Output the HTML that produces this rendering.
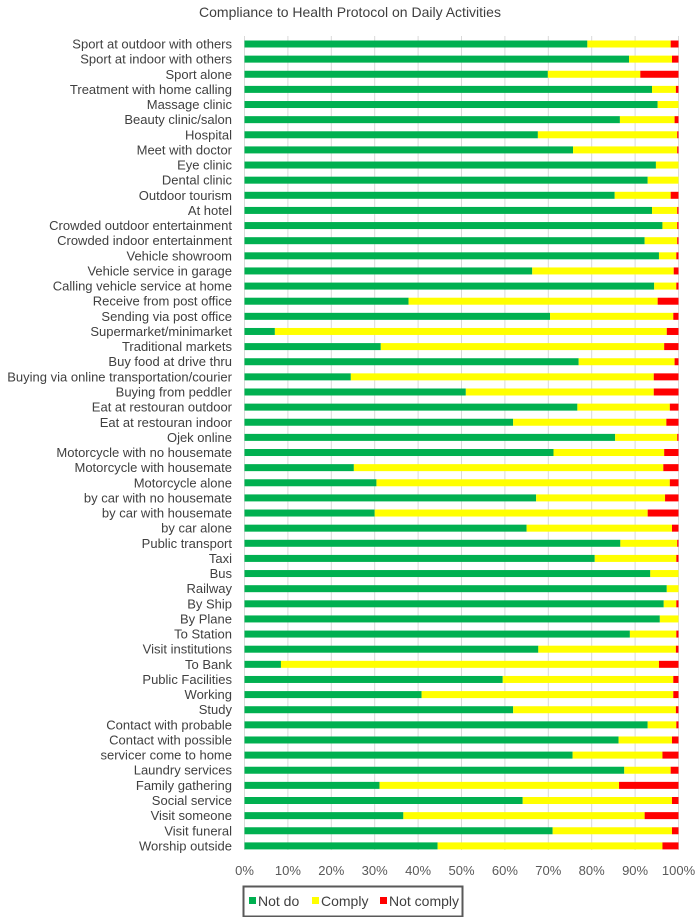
<!DOCTYPE html>
<html><head><meta charset="utf-8"><style>
body{margin:0;background:#fff;}
svg{display:block;font-family:"Liberation Sans",sans-serif;}
</style></head><body>
<svg id="chart" width="698" height="917">
<text x="350" y="17" text-anchor="middle" font-size="14" fill="#404040">Compliance to Health Protocol on Daily Activities</text>
<g id="grid"></g><g id="bars"></g><g id="labels"></g><g id="ticks"></g>
<g>
<rect x="243.5" y="886.5" width="219" height="30" fill="#fff" stroke="#595959" stroke-width="2"/>
<rect x="249" y="897" width="7" height="7" fill="#00b050"/>
<text x="258" y="906" font-size="14" fill="#404040">Not do</text>
<rect x="312" y="897" width="7" height="7" fill="#ffff00"/>
<text x="321" y="906" font-size="14" fill="#404040">Comply</text>
<rect x="380" y="897" width="7" height="7" fill="#ff0000"/>
<text x="389" y="906" font-size="14" fill="#404040">Not comply</text>
</g>
</svg>
<script>
const categories=["Sport at outdoor with others","Sport at indoor with others","Sport alone","Treatment with home calling","Massage clinic","Beauty clinic/salon","Hospital","Meet with doctor","Eye clinic","Dental clinic","Outdoor tourism","At hotel","Crowded outdoor entertainment","Crowded indoor entertainment","Vehicle showroom","Vehicle service in  garage","Calling vehicle service at home","Receive from post office","Sending via post office","Supermarket/minimarket","Traditional markets","Buy food at drive thru","Buying via online transportation/courier","Buying from peddler","Eat at restouran outdoor","Eat at restouran indoor","Ojek online","Motorcycle with no housemate","Motorcycle with housemate","Motorcycle alone","by car with no housemate","by car with housemate","by car alone","Public transport","Taxi","Bus","Railway","By Ship","By Plane","To Station","Visit institutions","To Bank","Public Facilities","Working","Study","Contact with probable","Contact with possible","servicer come to home","Laundry services","Family gathering","Social service","Visit someone","Visit funeral","Worship outside"];
const notDo=[79.0,88.6,69.9,93.9,95.2,86.5,67.6,75.7,94.8,92.9,85.3,93.9,96.3,92.2,95.5,66.3,94.4,37.8,70.4,7.0,31.4,77.0,24.5,51.0,76.7,61.9,85.4,71.2,25.2,30.4,67.2,30.0,65.0,86.6,80.7,93.5,97.3,96.6,95.7,88.8,67.7,8.4,59.5,40.8,61.9,92.9,86.2,75.6,87.5,31.1,64.1,36.6,71.0,44.5];
const comply=[19.2,9.9,21.3,5.5,4.8,12.6,32.1,24.0,5.2,7.1,12.9,5.8,3.4,7.5,4.0,32.6,5.1,57.4,28.4,90.3,65.3,22.1,69.8,43.3,21.3,35.3,14.3,25.5,71.3,67.6,29.7,62.9,33.5,13.1,18.8,6.5,2.7,2.9,4.3,10.7,31.7,87.1,39.3,58.0,37.5,6.6,12.3,20.7,10.7,55.2,34.4,55.6,27.5,51.8];
const notComply=[1.8,1.5,8.8,0.6,0,0.9,0.3,0.3,0,0,1.8,0.3,0.3,0.3,0.5,1.1,0.5,4.8,1.2,2.7,3.3,0.9,5.7,5.7,2.0,2.8,0.3,3.3,3.5,2.0,3.1,7.1,1.5,0.3,0.5,0,0,0.5,0,0.5,0.6,4.5,1.2,1.2,0.6,0.5,1.5,3.7,1.8,13.7,1.5,7.8,1.5,3.7];
const ticks=["0%","10%","20%","30%","40%","50%","60%","70%","80%","90%","100%"];
const NS="http://www.w3.org/2000/svg";
const X0=244.5,X1=678.5,Y0=44,STEP=15.13,TOP=36,BOT=850,BH=7;
const x=v=>X0+(X1-X0)*v/100;
const y=i=>Y0+i*STEP;
function mk(tag,attrs,parent){const e=document.createElementNS(NS,tag);for(const k in attrs)e.setAttribute(k,attrs[k]);document.getElementById(parent).appendChild(e);return e;}
ticks.forEach((t,i)=>{
  const v=i*10;
  const g=mk("line",{x1:x(v),x2:x(v),y1:TOP,y2:BOT,stroke:"#d9d9d9","stroke-width":1},"grid");
  
  
  const tx=mk("text",{x:x(v),y:875,"text-anchor":"middle","font-size":13,fill:"#595959"},"ticks");
  tx.textContent=t;
  
  
});
categories.forEach((c,i)=>{
  const cy=y(i);
  const lb=mk("text",{x:232,y:cy+4.5,"text-anchor":"end","font-size":13,fill:"#404040"},"labels");
  lb.textContent=c;
  
  
  const tot=notDo[i]+comply[i]+notComply[i];
  const a=notDo[i]/tot*100,b=comply[i]/tot*100;
  const r1=mk("rect",{x:x(0),y:cy-BH/2,width:x(a)-x(0),height:BH,fill:"#00b050"},"bars");
  
  
  const r2=mk("rect",{x:x(a),y:cy-BH/2,width:x(a+b)-x(a),height:BH,fill:"#ffff00"},"bars");
  
  
  const r3=mk("rect",{x:x(a+b),y:cy-BH/2,width:x(100)-x(a+b),height:BH,fill:"#ff0000"},"bars");
  
  
});
</script>
</body></html>
